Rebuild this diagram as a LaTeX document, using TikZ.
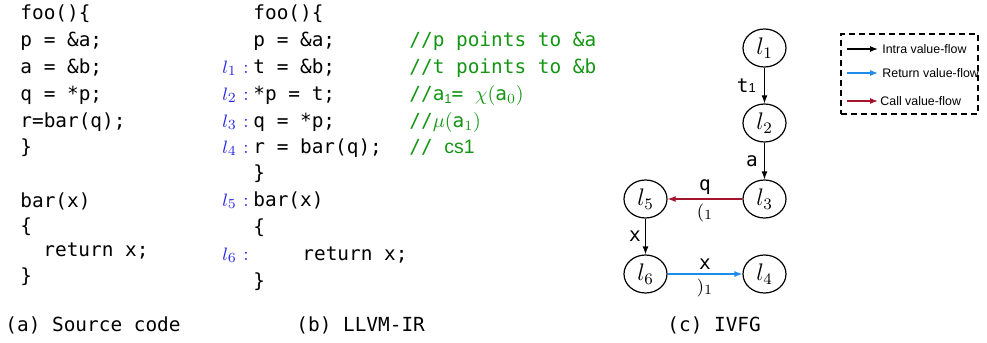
\documentclass[tikz,border=0pt]{standalone}
\usepackage{fontspec}
\setmonofont{DejaVu Sans Mono}
\newfontfamily\legfont{Liberation Sans}
\usetikzlibrary{arrows.meta,shapes.geometric}
\definecolor{cgreen}{RGB}{20,150,20}
\definecolor{lblue}{RGB}{40,40,230}
\definecolor{rblue}{RGB}{30,140,235}
\definecolor{cred}{RGB}{165,20,45}
\begin{document}
\begin{tikzpicture}[x=0.5pt,y=-0.5pt,
  code/.style={anchor=base west,inner sep=0,font=\fontsize{9.7}{11}\ttfamily},
  cmt/.style={code,text=cgreen},
  lab/.style={anchor=base west,inner sep=0,text=lblue,font=\fontsize{9.5}{11}\selectfont},
  vnode/.style={draw,ellipse,line width=0.6pt,inner sep=0,minimum width=21.5pt,minimum height=19pt,font=\fontsize{12}{14}\selectfont},
  elab/.style={inner sep=1pt,text=black,font=\fontsize{9.7}{11}\ttfamily},
  plab/.style={below,inner sep=2pt,text=black,font=\fontsize{9.5}{11}\selectfont},
  tip/.style={-{Latex[length=4pt,width=3pt]}},
  intra/.style={tip,line width=0.6pt,black},
  ret/.style={tip,line width=0.6pt,rblue},
  call/.style={tip,line width=0.6pt,cred},
  legtext/.style={anchor=west,inner sep=0,font=\fontsize{6.2}{8}\legfont}]
\useasboundingbox (0,0) rectangle (987,343);
% (a) source code
\node[code] (a1) at (20,19) {foo()\{};
\node[code] (a2) at (20,46) {p = \&a;};
\node[code] (a3) at (20,73) {a = \&b;};
\node[code] (a4) at (20,100) {q = *p;};
\node[code] (a5) at (20,127) {r=bar(q);};
\node[code] (a6) at (20,153) {\}};
\node[code] (a7) at (20,207) {bar(x)};
\node[code] (a8) at (20,232) {\{};
\node[code] (a9) at (43,256) {return x;};
\node[code] (a10) at (20,282) {\}};
\node[code] (capa) at (5,331) {(a) Source code};
% (b) LLVM-IR
\node[code] (b1) at (253,19) {foo()\{};
\node[code] (b2) at (253,46) {p = \&a;};
\node[code] (b3) at (253,73) {t = \&b;};
\node[code] (b4) at (253,100) {*p = t;};
\node[code] (b5) at (253,127) {q = *p;};
\node[code] (b6) at (253,153) {r = bar(q);};
\node[code] (b7) at (253,179) {\}};
\node[code] (b8) at (253,206) {bar(x)};
\node[code] (b9) at (253,233) {\{};
\node[code] (b10) at (302,260) {return x;};
\node[code] (b11) at (253,287) {\}};
\node[code] (capb) at (296,331) {(b) LLVM-IR};
\foreach \i/\yy in {1/73,2/100,3/127,4/153,5/206,6/260}{
  \node[lab] (l\i lab) at (222,\yy) {$l_{\i}$};
  \node[lab] (l\i col) at (243,\yy) {:};
}
% comments
\node[cmt] (c1) at (409,46) {//p points to \&a};
\node[cmt] (c2) at (409,73) {//t points to \&b};
\node[cmt] (c3) at (409,100) {//a{\legfont\fontsize{6.5}{8}\selectfont\raisebox{-1.5pt}{1}}= $\chi(\texttt{a}_{0})$};
\node[cmt] (c4) at (409,127) {//$\mu(\texttt{a}_{1})$};
\node[cmt] (c5) at (409,153) {// {\legfont cs1}};
% (c) IVFG
\node[vnode] (n1) at (764.5,48) {$l_1$};
\node[vnode] (n2) at (764.5,123) {$l_2$};
\node[vnode] (n3) at (764.5,199) {$l_3$};
\node[vnode] (n5) at (645.5,199) {$l_5$};
\node[vnode] (n6) at (645.5,274) {$l_6$};
\node[vnode] (n4) at (764.5,274) {$l_4$};
\draw[intra] (n1) -- node[elab,left,xshift=-3pt] {t{\legfont\fontsize{6.5}{8}\selectfont1}} (n2);
\draw[intra] (n2) -- node[elab,left,xshift=-2pt] {a} (n3);
\draw[call] (n3) -- node[elab,above,yshift=1pt] {q} node[plab] {$(_1$} (n5);
\draw[intra] (n5) -- node[elab,left,xshift=-1pt] {x} (n6);
\draw[ret] (n6) -- node[elab,above,yshift=1pt] {x} node[plab] {$)_1$} (n4);
\node[code] (capc) at (667,331) {(c) IVFG};
% legend
\node[draw,dashed,dash pattern=on 3pt off 2pt,line width=0.7pt,minimum width=68.5pt,minimum height=40pt,inner sep=0] (leg) at (909.5,74) {};
\coordinate (k1s) at (847,49); \coordinate (k1e) at (878,49);
\coordinate (k2s) at (847,73); \coordinate (k2e) at (878,73);
\coordinate (k3s) at (847,101); \coordinate (k3e) at (878,101);
\draw[intra] (k1s) -- (k1e);
\draw[ret] (k2s) -- (k2e);
\draw[call] (k3s) -- (k3e);
\node[legtext] (t1) at (882,49) {Intra value-flow};
\node[legtext] (t2) at (882,73) {Return value-flow};
\node[legtext] (t3) at (880,101) {Call value-flow};
\end{tikzpicture}
\end{document}
